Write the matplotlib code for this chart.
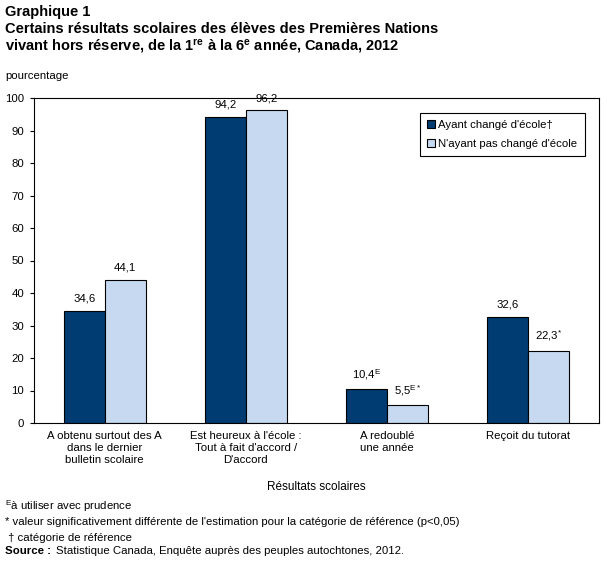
import numpy as np
import matplotlib
matplotlib.use('Agg')
import matplotlib.pyplot as plt

plt.rcParams['font.family'] = ['Liberation Sans', 'DejaVu Sans']
plt.rcParams['mathtext.fontset'] = 'custom'
plt.rcParams['mathtext.rm'] = 'Liberation Sans'
plt.rcParams['mathtext.it'] = 'Liberation Sans'
plt.rcParams['mathtext.bf'] = 'Liberation Sans:bold'

categories = ['A obtenu surtout des A\ndans le dernier\nbulletin scolaire',
              "Est heureux à l'école :\nTout à fait d'accord /\nD'accord",
              'A redoublé\nune année',
              'Reçoit du tutorat']
changed = [34.6, 94.2, 10.4, 32.6]
not_changed = [44.1, 96.2, 5.5, 22.3]
changed_labels = ['34,6', '94,2', r'10,4$^{\mathrm{E}}$', '32,6']
not_changed_labels = ['44,1', '96,2', r'5,5$^{\mathrm{E*}}$', r'22,3$^{*}$']
series_names = ["Ayant changé d'école†", "N'ayant pas changé d'école"]
yticks = np.arange(0, 101, 10)

dark = '#003B71'
light = '#C6D9F0'

fig = plt.figure(figsize=(6.07, 5.69), dpi=100)
ax = fig.add_axes([34 / 607, 146 / 569, 565 / 607, 325 / 569])

x = np.arange(len(categories))
w = 0.29
b1 = ax.bar(x - w / 2, changed, w, color=dark, edgecolor='black', linewidth=0.8,
            label=series_names[0])
b2 = ax.bar(x + w / 2, not_changed, w, color=light, edgecolor='black', linewidth=0.8,
            label=series_names[1])

for rect, lab in zip(b1, changed_labels):
    ax.text(rect.get_x() + rect.get_width() / 2, rect.get_height() + 2.2, lab,
            ha='center', va='bottom', fontsize=8.2)
for rect, lab in zip(b2, not_changed_labels):
    ax.text(rect.get_x() + rect.get_width() / 2, rect.get_height() + 2.2, lab,
            ha='center', va='bottom', fontsize=8.2)

ax.set_xlim(-0.5, len(categories) - 0.5)
ax.set_ylim(0, 100)
ax.set_yticks(yticks)
ax.set_yticklabels([str(v) for v in yticks], fontsize=8.2)
ax.set_xticks(x)
ax.set_xticklabels(categories, fontsize=8.2, linespacing=1.2)
ax.tick_params(axis='x', length=0, pad=6)
ax.tick_params(axis='y', length=3, width=0.8, pad=4)
for s in ax.spines.values():
    s.set_linewidth(0.8)

ax.set_xlabel('Résultats scolaires', fontsize=8.5, labelpad=12)

leg = ax.legend(loc='upper right', bbox_to_anchor=(0.975, 0.954), fontsize=8.2,
                fancybox=False, edgecolor='black', framealpha=1, borderaxespad=0,
                handlelength=0.7, handleheight=0.7, handletextpad=0.3,
                borderpad=0.65, labelspacing=0.75)
leg.get_frame().set_linewidth(0.8)

fig.text(5 / 607, 1 - 12 / 569, 'Graphique 1', fontsize=10.5, fontweight='bold',
         va='center', ha='left')
fig.text(5 / 607, 1 - 29 / 569,
         'Certains résultats scolaires des élèves des Premières Nations',
         fontsize=10.5, fontweight='bold', va='center', ha='left')
fig.text(5 / 607, 1 - 46 / 569,
         r'vivant hors réserve, de la 1$^{\mathbf{re}}$ à la 6$^{\mathbf{e}}$ année, Canada, 2012',
         fontsize=10.5, fontweight='bold', va='center', ha='left')
fig.text(5 / 607, 1 - 76 / 569, 'pourcentage', fontsize=8.2, va='center', ha='left')

notes = [r'$^{\mathrm{E}}$à utiliser avec prudence',
         "* valeur significativement différente de l'estimation pour la catégorie de référence (p<0,05)",
         ' † catégorie de référence']
for i, n in enumerate(notes):
    fig.text(5 / 607, 1 - (506 + 16 * i) / 569, n, fontsize=8.2, va='center', ha='left')
fig.text(5 / 607, 1 - 551 / 569, 'Source :', fontsize=8.2, fontweight='bold',
         va='center', ha='left')
fig.text(56 / 607, 1 - 551 / 569,
         'Statistique Canada, Enquête auprès des peuples autochtones, 2012.',
         fontsize=8.2, va='center', ha='left')

fig.savefig('out.png', dpi=100)
